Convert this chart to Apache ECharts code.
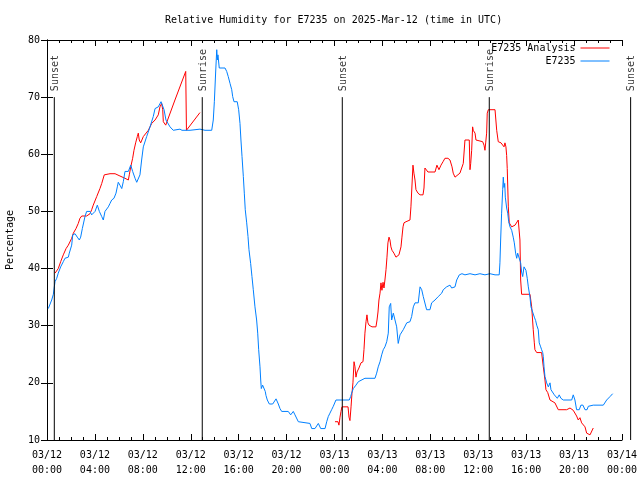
<!DOCTYPE html>
<html><head><meta charset="utf-8">
<script src="https://cdn.jsdelivr.net/npm/echarts@6/dist/echarts.min.js"></script>
<style>html,body{margin:0;padding:0;background:#fff}#c{width:640px;height:480px}</style>
</head><body><div id="c"></div>
<script>
// x values are hours since 2025-03-12 00:00 UTC
const tickDates = ['03/12','03/12','03/12','03/12','03/12','03/12','03/13','03/13','03/13','03/13','03/13','03/13','03/14'];
const tickTimes = ['00:00','04:00','08:00','12:00','16:00','20:00','00:00','04:00','08:00','12:00','16:00','20:00','00:00'];

const sunEventHours = [0.61, 12.96, 24.65, 36.92, 48.72];
const sunEventNames = ['Sunset', 'Sunrise', 'Sunset', 'Sunrise', 'Sunset'];

const analysisDay1 = [
 [0.67,39.2],[0.81,39.2],[0.94,40.0],[1.14,41.2],[1.36,42.4],[1.59,43.5],[1.78,44.1],[2.06,45.3],[2.20,46.2],
 [2.42,47.0],[2.61,47.9],[2.75,48.8],[2.90,49.2],[3.31,49.2],[3.59,49.6],[3.73,50.3],[3.86,51.1],[4.15,52.6],
 [4.42,54.0],[4.57,54.9],[4.78,56.4],[5.26,56.6],[5.68,56.6],[6.09,56.2],[6.51,55.8],[6.79,55.5],[6.87,56.4],
 [6.99,57.8],[7.15,59.3],[7.26,60.7],[7.40,62.0],[7.54,63.1],[7.62,63.7],[7.70,62.5],[7.82,62.0],[8.04,63.1],
 [8.46,64.2],[8.74,65.4],[9.02,66.0],[9.29,66.9],[9.43,68.3],[9.57,68.9],[9.66,67.8],[9.71,65.7],[9.91,65.1],
 [10.68,69.5],[11.58,74.5],[11.64,64.2],[11.77,64.5],[12.77,67.3]
];
const analysisDay2 = [
 [24.04,13.2],[24.29,13.2],[24.37,12.6],[24.46,14.0],[24.54,15.0],[24.62,15.8],[25.13,15.8],[25.21,14.0],[25.29,13.4],
 [25.38,15.8],[25.46,18.2],[25.54,20.0],[25.63,23.7],[25.71,22.8],[25.79,21.0],[25.88,21.9],[26.04,22.6],[26.21,23.5],
 [26.38,23.7],[26.46,25.8],[26.54,28.7],[26.63,30.7],[26.71,31.9],[26.79,30.5],[26.88,30.1],[27.13,29.8],[27.46,29.8],
 [27.55,31.0],[27.63,32.4],[27.71,34.5],[27.80,35.7],[27.88,37.5],[27.96,36.2],[28.05,37.6],[28.13,36.6],[28.21,38.0],
 [28.30,39.8],[28.38,42.0],[28.46,44.5],[28.55,45.5],[28.63,45.0],[28.71,43.8],[28.80,43.2],[28.96,42.7],[29.13,42.0],
 [29.38,42.4],[29.55,43.8],[29.63,45.5],[29.72,47.3],[29.80,48.0],[29.97,48.2],[30.30,48.5],[30.38,50.8],[30.55,58.1],
 [30.63,56.7],[30.72,55.5],[30.80,53.8],[30.97,53.2],[31.14,52.9],[31.39,52.9],[31.47,54.1],[31.55,57.6],[31.80,56.9],
 [32.39,56.9],[32.55,58.1],[32.72,57.3],[32.89,58.1],[33.06,58.7],[33.22,59.3],[33.47,59.3],[33.64,59.0],[33.81,57.8],
 [33.91,56.7],[34.06,56.0],[34.47,56.7],[34.75,58.4],[34.89,62.5],[35.25,62.5],[35.31,57.3],[35.37,58.4],[35.45,60.7],
 [35.53,64.8],[35.58,64.2],[35.73,63.7],[35.81,62.5],[36.37,62.2],[36.48,61.6],[36.56,60.7],[36.62,62.0],[36.70,63.7],
 [36.75,67.2],[36.84,67.8],[37.40,67.8],[37.54,64.2],[37.67,62.2],[37.90,62.0],[38.06,62.2],[38.15,61.3],[38.23,62.0],
 [38.31,61.3],[38.37,59.8],[38.42,57.5],[38.51,50.8],[38.59,48.0],[38.79,47.3],[39.07,47.6],[39.34,48.5],[39.42,48.3],
 [39.48,45.0],[39.54,38.0],[39.62,35.5],[39.76,35.4],[40.32,35.5],[40.46,33.3],[40.59,29.3],[40.68,27.0],[40.73,25.8],
 [40.88,25.3],[41.29,25.3],[41.43,22.8],[41.57,20.5],[41.65,18.8],[41.80,18.3],[41.99,17.0],[42.13,16.7],[42.40,16.5],
 [42.68,15.3],[43.38,15.3],[43.66,15.6],[43.93,15.2],[44.21,14.2],[44.35,13.5],[44.49,13.9],[44.63,13.0],[44.91,12.3],
 [45.05,11.2],[45.33,10.9],[45.60,12.1]
];

const stationData = [
 [0.11,33.0],[0.39,34.5],[0.53,35.5],[0.61,36.8],[0.67,37.7],[0.81,38.3],[0.94,39.2],[1.14,40.3],[1.36,41.2],[1.50,41.8],
 [1.78,42.0],[1.86,42.7],[2.06,44.1],[2.15,45.9],[2.34,46.1],[2.53,45.5],[2.70,45.0],[2.81,45.5],[2.95,47.0],[3.17,49.1],
 [3.31,50.0],[3.59,50.0],[3.73,49.4],[3.86,49.1],[4.01,50.0],[4.20,51.1],[4.37,50.0],[4.57,49.1],[4.70,48.5],[4.84,50.0],
 [5.12,50.8],[5.26,51.4],[5.40,52.0],[5.59,52.3],[5.76,53.2],[5.87,54.3],[5.95,55.1],[6.09,54.6],[6.24,54.0],[6.37,55.2],
 [6.51,57.0],[6.79,57.0],[6.99,58.1],[7.15,57.0],[7.35,55.8],[7.49,55.1],[7.62,55.1],[7.76,56.4],[7.90,59.0],[8.04,61.3],
 [8.32,63.1],[8.60,64.8],[8.87,66.6],[9.02,68.0],[9.29,68.3],[9.52,69.2],[9.66,69.2],[9.77,67.8],[9.93,66.0],[10.27,64.8],
 [10.54,64.2],[11.10,64.4],[11.27,64.2],[11.94,64.2],[12.77,64.4],[13.19,64.2],[13.75,64.2],
 [13.88,66.0],[13.97,69.2],[14.08,74.4],[14.17,78.3],[14.22,76.5],[14.27,77.4],[14.38,75.1],[14.86,75.1],[15.00,74.5],
 [15.13,73.6],[15.28,72.4],[15.42,71.3],[15.50,70.1],[15.61,69.2],[15.88,69.2],[16.00,67.8],[16.11,65.4],[16.19,62.5],
 [16.28,59.6],[16.39,56.1],[16.47,53.2],[16.55,50.3],[16.67,48.0],[16.78,45.6],[16.86,43.3],[17.00,40.9],[17.11,38.6],
 [17.22,36.3],[17.36,33.3],[17.50,31.0],[17.59,28.7],[17.67,25.8],[17.78,22.8],[17.84,20.5],[17.89,19.0],[18.00,19.6],
 [18.11,19.9],[18.22,18.5],[18.28,17.8],[18.39,17.0],[18.56,16.3],[18.84,16.3],[18.95,16.6],[19.12,17.2],[19.31,16.3],
 [19.45,15.5],[19.59,15.0],[20.14,15.0],[20.34,14.4],[20.43,14.1],[20.56,15.0],[20.70,14.4],[20.98,13.2],[21.12,12.9],
 [21.95,12.9],[22.10,12.0],[22.37,12.0],[22.65,12.9],[22.85,12.0],[23.21,12.0],[23.35,13.2],[23.48,14.1],[23.62,14.7],
 [23.76,15.3],[23.90,15.9],[24.12,17.0],[25.23,17.0],[25.35,17.6],[25.43,18.2],[25.57,19.0],[25.79,19.6],[25.99,20.2],
 [26.13,20.5],[26.54,20.8],[27.38,20.8],[27.52,21.7],[27.65,22.8],[27.80,23.7],[27.94,24.9],[28.07,25.8],[28.21,26.3],
 [28.36,27.2],[28.49,28.7],[28.57,33.3],[28.69,33.9],[28.77,31.0],[28.91,32.2],[29.05,31.0],[29.19,29.8],[29.32,26.9],
 [29.47,28.4],[29.74,29.3],[30.03,30.5],[30.30,30.7],[30.44,31.6],[30.58,33.3],[30.72,34.0],[30.99,34.0],[31.14,36.8],
 [31.28,36.3],[31.41,35.1],[31.69,32.8],[31.97,32.8],[32.11,34.0],[32.39,34.5],[32.66,35.1],[32.95,35.7],[33.08,36.3],
 [33.36,36.8],[33.50,36.6],[33.64,37.1],[33.78,36.6],[34.06,36.8],[34.20,38.0],[34.42,38.9],[34.64,39.1],[34.89,38.9],
 [35.31,39.1],[35.73,38.9],[36.14,39.1],[36.56,38.9],[36.98,39.1],[37.40,38.9],[37.75,38.9],
 [37.81,41.0],[37.87,45.0],[37.95,49.7],[38.04,53.8],[38.09,56.0],[38.15,54.2],[38.21,54.9],[38.26,52.5],[38.37,50.6],
 [38.46,49.7],[38.54,48.2],[38.65,47.3],[38.79,46.7],[38.92,45.5],[39.01,44.5],[39.12,42.7],[39.21,41.8],[39.29,42.7],
 [39.42,42.9],[39.54,41.0],[39.62,39.4],[39.71,38.6],[39.82,40.3],[39.90,40.6],[39.98,39.7],[40.09,38.3],[40.18,36.8],
 [40.32,35.0],[40.40,33.3],[40.54,32.4],[40.68,31.5],[40.79,30.9],[40.88,30.1],[41.01,29.3],[41.09,27.0],[41.21,26.3],
 [41.29,25.8],[41.38,25.3],[41.43,24.6],[41.49,22.8],[41.57,21.1],[41.65,20.5],[41.71,20.0],[41.85,19.3],[41.99,20.0],
 [42.07,18.8],[42.21,18.5],[42.35,17.9],[42.49,17.9],[42.60,17.3],[42.76,17.9],[42.90,17.3],[43.10,17.0],[43.80,17.0],
 [43.93,17.9],[44.07,17.0],[44.21,15.3],[44.43,15.3],[44.57,16.1],[44.74,16.1],[44.91,15.3],[45.08,15.3],[45.19,15.9],
 [45.33,15.6],[45.60,16.1],[46.44,16.1],[46.72,17.0],[47.00,17.6],[47.22,18.1]
];

const FONT = 'DejaVu Sans Mono';
const analysisSeriesData = analysisDay1.concat([[12.9, null]], analysisDay2);
const sunLineData = [];
sunEventHours.forEach(function (t) { sunLineData.push([t, 10], [t, 70], [t, null]); });
const sunLabelData = sunEventHours.map(function (t, i) { return [t, 70, sunEventNames[i]]; });

// plot box: x 47..622 px for 0..48 h; overlay grid keeps the same px/hour but spans 0..49 h
const GRID_L = 47, GRID_W = 575, GRID_T = 40, GRID_B = 40;
const OVER_W = GRID_W * 49 / 48;

const chart = echarts.init(document.getElementById('c'), null, {renderer: 'canvas'});
const axisLine = {show: true, lineStyle: {color: '#000', width: 1}};
const tick = {show: true, inside: true, length: 6, lineStyle: {color: '#000'}};
const minor = {show: true, splitNumber: 4, length: 3, lineStyle: {color: '#000'}};
chart.setOption({
  animation: false,
  backgroundColor: '#fff',
  title: {
    text: 'Relative Humidity for E7235 on 2025-Mar-12 (time in UTC)',
    left: 165, top: 15, padding: 0,
    textStyle: {fontFamily: FONT, fontSize: 10, fontWeight: 'normal', color: '#000'}
  },
  legend: {
    data: ['E7235 Analysis', 'E7235'],
    orient: 'vertical', align: 'right',
    right: 30, top: 43, padding: 0,
    itemWidth: 29, itemHeight: 10, itemGap: 3,
    itemStyle: {opacity: 0},
    lineStyle: {width: 1},
    textStyle: {fontFamily: FONT, fontSize: 10, color: '#000'}
  },
  grid: [
    {left: GRID_L, width: GRID_W, top: GRID_T, bottom: GRID_B, containLabel: false, outerBoundsMode: 'none'},
    {left: GRID_L, width: OVER_W, top: GRID_T, bottom: GRID_B, containLabel: false, outerBoundsMode: 'none'}
  ],
  xAxis: [{
    type: 'value', gridIndex: 0, min: 0, max: 48, interval: 4, position: 'bottom',
    axisLine: axisLine, axisTick: tick, minorTick: minor, splitLine: {show: false},
    axisLabel: {
      fontFamily: FONT, fontSize: 10, color: '#000', margin: 8, lineHeight: 15,
      formatter: function (v) { const i = Math.round(v / 4); return tickDates[i] + '\n' + tickTimes[i]; }
    }
  }, {
    type: 'value', gridIndex: 0, min: 0, max: 48, interval: 4, position: 'top',
    axisLine: axisLine, axisTick: tick, minorTick: minor, splitLine: {show: false},
    axisLabel: {show: false}
  }, {
    type: 'value', gridIndex: 1, min: 0, max: 49, show: false
  }],
  yAxis: [{
    type: 'value', gridIndex: 0, min: 10, max: 80, interval: 10, position: 'left',
    name: 'Percentage', nameLocation: 'middle', nameGap: 32, nameRotate: 90,
    nameTextStyle: {fontFamily: FONT, fontSize: 10, color: '#000'},
    axisLine: axisLine, axisTick: tick, splitLine: {show: false},
    axisLabel: {fontFamily: FONT, fontSize: 10, color: '#000', margin: 7}
  }, {
    type: 'value', gridIndex: 0, min: 10, max: 80, interval: 10, position: 'right',
    axisLine: axisLine, axisTick: tick, splitLine: {show: false},
    axisLabel: {show: false}
  }, {
    type: 'value', gridIndex: 1, min: 10, max: 80, show: false
  }],
  series: [{
    name: 'E7235 Analysis', type: 'line', data: analysisSeriesData,
    xAxisIndex: 0, yAxisIndex: 0,
    symbol: 'none', connectNulls: false,
    lineStyle: {color: '#ff0000', width: 1}, itemStyle: {color: '#ff0000'}
  }, {
    name: 'E7235', type: 'line', data: stationData,
    xAxisIndex: 0, yAxisIndex: 0,
    symbol: 'none',
    lineStyle: {color: '#0080ff', width: 1}, itemStyle: {color: '#0080ff'}
  }, {
    name: 'sun', type: 'line', data: sunLineData, symbol: 'none',
    xAxisIndex: 2, yAxisIndex: 2,
    connectNulls: false, silent: true,
    lineStyle: {color: '#000', width: 1}
  }, {
    name: 'sunLabels', type: 'scatter', data: sunLabelData, symbolSize: 0, silent: true,
    xAxisIndex: 2, yAxisIndex: 2,
    label: {
      show: true, position: [1, -6], rotate: 90, align: 'left', verticalAlign: 'middle',
      fontFamily: FONT, fontSize: 10, color: '#000',
      formatter: function (p) { return p.data[2]; }
    }
  }]
});
</script></body></html>
